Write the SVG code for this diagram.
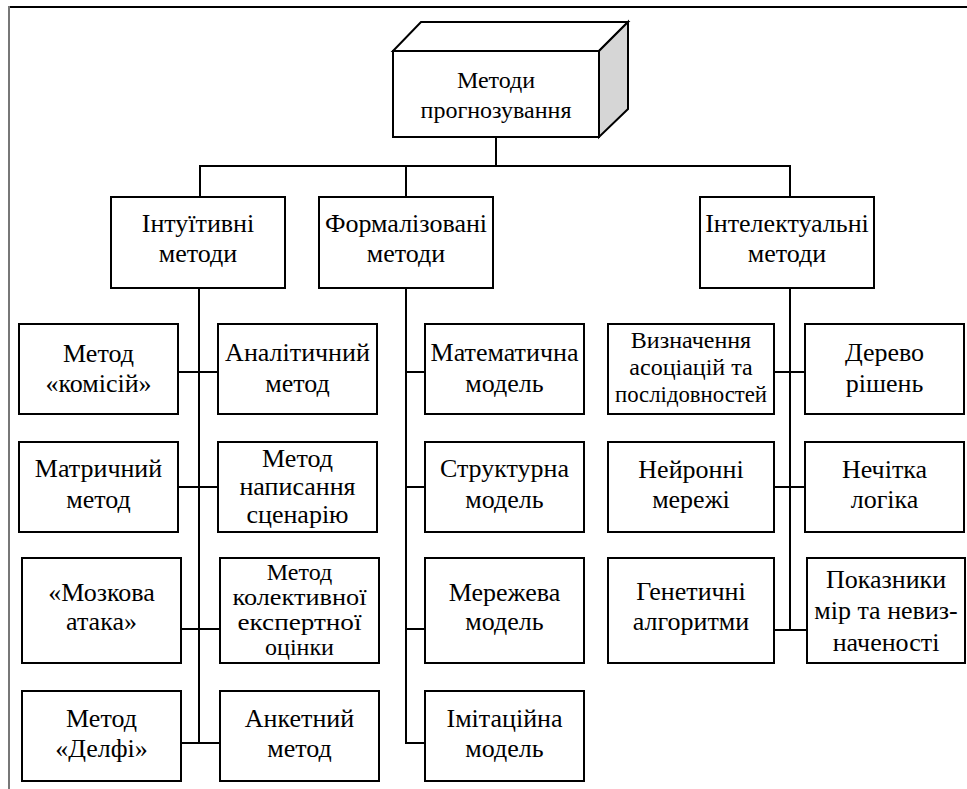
<svg xmlns="http://www.w3.org/2000/svg" width="967" height="789" viewBox="0 0 967 789">
<style>
.box{fill:#fff;stroke:#000;stroke-width:2}
text{font-family:'Liberation Serif','DejaVu Serif',serif;font-size:26px;text-anchor:middle;fill:#000}
.ln{stroke:#000;stroke-width:2;fill:none}
.s24{font-size:24px}
</style>
<rect width="967" height="789" fill="#fff"/>
<g id="frame">
<line x1="8" y1="7" x2="967" y2="7" stroke="#000" stroke-width="2"/>
<line x1="9" y1="6" x2="9" y2="789" stroke="#777" stroke-width="2"/>
</g>
<g id="connectors" class="ln">
<line x1="496" y1="137" x2="496" y2="166"/>
<line x1="199" y1="166" x2="791" y2="166"/>
<line x1="200" y1="166" x2="200" y2="197"/>
<line x1="406" y1="166" x2="406" y2="197"/>
<line x1="790" y1="166" x2="790" y2="197"/>
<line x1="199" y1="288" x2="199" y2="744"/>
<line x1="178" y1="372" x2="218" y2="372"/>
<line x1="178" y1="487" x2="218" y2="487"/>
<line x1="181" y1="629" x2="220" y2="629"/>
<line x1="181" y1="743" x2="220" y2="743"/>
<line x1="406" y1="288" x2="406" y2="744"/>
<line x1="405" y1="372" x2="425" y2="372"/>
<line x1="405" y1="487" x2="425" y2="487"/>
<line x1="405" y1="629" x2="425" y2="629"/>
<line x1="405" y1="743" x2="425" y2="743"/>
<line x1="790" y1="288" x2="790" y2="631"/>
<line x1="774" y1="372" x2="805" y2="372"/>
<line x1="774" y1="487" x2="805" y2="487"/>
<line x1="774" y1="630" x2="807" y2="630"/>
</g>
<g id="root">
<polygon points="393,51 421,22 628,22 599,51" fill="#fff" stroke="#000" stroke-width="2"/>
<polygon points="599,51 628,22 628,109 599,137" fill="#d6d6d6" stroke="#000" stroke-width="2"/>
<rect class="box" x="393" y="51" width="206" height="86"/>
<text class="s24" x="496" y="88">Методи</text>
<text class="s24" x="496" y="118">прогнозування</text>
</g>
<g id="intuitive">
<rect class="box" x="111" y="197" width="174" height="91"/>
<text x="198" y="232">Інтуїтивні</text>
<text x="198" y="262">методи</text>
</g>
<g id="formal">
<rect class="box" x="319" y="197" width="174" height="91"/>
<text x="406" y="232">Формалізовані</text>
<text x="406" y="262">методи</text>
</g>
<g id="intellectual">
<rect class="box" x="700" y="197" width="174" height="91"/>
<text x="787" y="232">Інтелектуальні</text>
<text x="787" y="262">методи</text>
</g>
<g id="komisiy">
<rect class="box" x="19" y="324" width="159" height="90"/>
<text x="98.5" y="362">Метод</text>
<text x="98.5" y="392">«комісій»</text>
</g>
<g id="analitychnyi">
<rect class="box" x="218" y="324" width="159" height="90"/>
<text x="297.5" y="361">Аналітичний</text>
<text x="297.5" y="392">метод</text>
</g>
<g id="matrychnyi">
<rect class="box" x="19" y="442" width="159" height="90"/>
<text x="98.5" y="477">Матричний</text>
<text x="98.5" y="508">метод</text>
</g>
<g id="scenario">
<rect class="box" x="218" y="442" width="159" height="90"/>
<text x="297.5" y="467">Метод</text>
<text x="297.5" y="495">написання</text>
<text x="297.5" y="523">сценарію</text>
</g>
<g id="brainstorm">
<rect class="box" x="22" y="558" width="159" height="105"/>
<text x="101.5" y="601">«Мозкова</text>
<text x="101.5" y="630">атака»</text>
</g>
<g id="collective">
<rect class="box" x="220" y="558" width="159" height="105"/>
<text class="s24" x="299.5" y="580">Метод</text>
<text class="s24" x="299.5" y="605" textLength="134" lengthAdjust="spacingAndGlyphs">колективної</text>
<text class="s24" x="299.5" y="630" textLength="124" lengthAdjust="spacingAndGlyphs">експертної</text>
<text class="s24" x="299.5" y="655">оцінки</text>
</g>
<g id="delphi">
<rect class="box" x="22" y="691" width="159" height="90"/>
<text x="101.5" y="727">Метод</text>
<text x="101.5" y="757">«Делфі»</text>
</g>
<g id="anketnyi">
<rect class="box" x="220" y="691" width="159" height="90"/>
<text x="299.5" y="727">Анкетний</text>
<text x="299.5" y="757">метод</text>
</g>
<g id="math">
<rect class="box" x="425" y="324" width="159" height="90"/>
<text x="504.5" y="361">Математична</text>
<text x="504.5" y="392">модель</text>
</g>
<g id="structural">
<rect class="box" x="425" y="442" width="159" height="90"/>
<text x="504.5" y="477">Структурна</text>
<text x="504.5" y="508">модель</text>
</g>
<g id="network">
<rect class="box" x="425" y="558" width="159" height="105"/>
<text x="504.5" y="601">Мережева</text>
<text x="504.5" y="630">модель</text>
</g>
<g id="imitation">
<rect class="box" x="425" y="691" width="159" height="90"/>
<text x="504.5" y="727">Імітаційна</text>
<text x="504.5" y="757">модель</text>
</g>
<g id="associations">
<rect class="box" x="608" y="324" width="166" height="90"/>
<text class="s24" x="691" y="348">Визначення</text>
<text class="s24" x="691" y="375">асоціацій та</text>
<text class="s24" x="691" y="402" textLength="152" lengthAdjust="spacingAndGlyphs">послідовностей</text>
</g>
<g id="tree">
<rect class="box" x="805" y="324" width="159" height="90"/>
<text x="884.5" y="361">Дерево</text>
<text x="884.5" y="392">рішень</text>
</g>
<g id="neural">
<rect class="box" x="608" y="442" width="166" height="90"/>
<text x="691" y="478">Нейронні</text>
<text x="691" y="508">мережі</text>
</g>
<g id="fuzzy">
<rect class="box" x="805" y="442" width="159" height="90"/>
<text x="884.5" y="478">Нечітка</text>
<text x="884.5" y="508">логіка</text>
</g>
<g id="genetic">
<rect class="box" x="608" y="558" width="166" height="105"/>
<text x="691" y="600">Генетичні</text>
<text x="691" y="630">алгоритми</text>
</g>
<g id="uncertainty">
<rect class="box" x="807" y="558" width="158" height="105"/>
<text x="886" y="588">Показники</text>
<text x="886" y="619">мір та невиз-</text>
<text x="886" y="651">наченості</text>
</g>
</svg>
